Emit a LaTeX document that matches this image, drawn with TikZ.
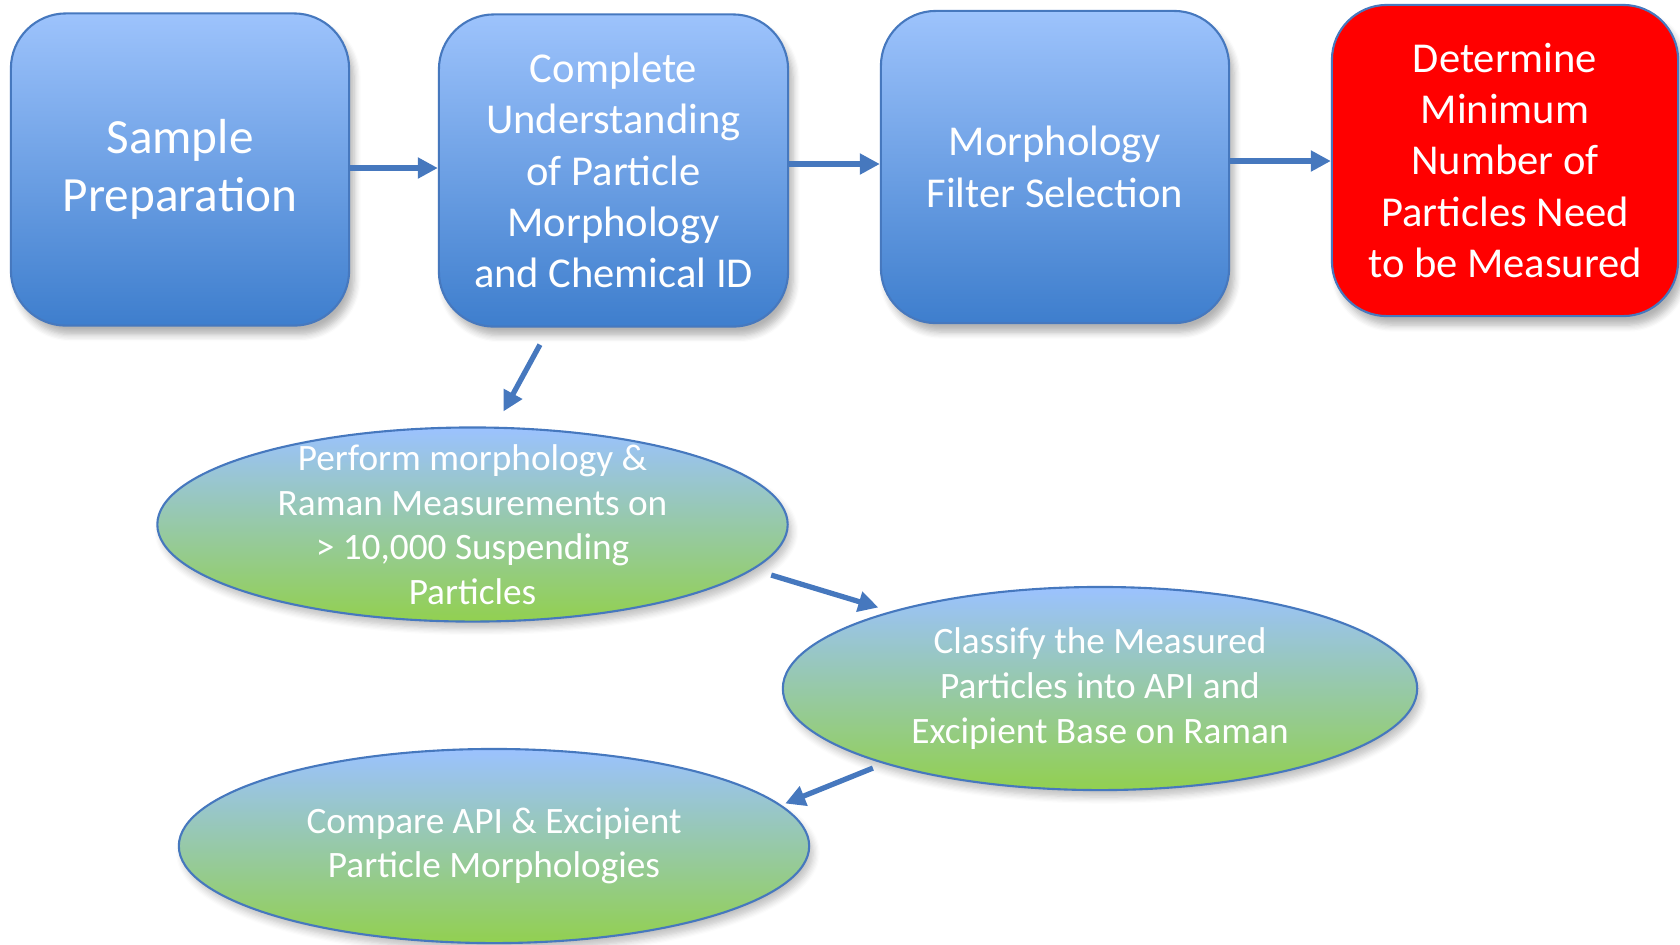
\documentclass[tikz,border=0pt]{standalone}
\usepackage{fontspec}
\setmainfont{Carlito}
\usepackage{xcolor}
\usetikzlibrary{shapes.geometric,shadows.blur,arrows.meta}

\definecolor{boxtop}{RGB}{157,195,252}
\definecolor{boxbot}{RGB}{62,126,205}
\definecolor{edgeblue}{RGB}{70,120,190}
\definecolor{ovtop}{RGB}{155,194,255}
\definecolor{ovbot}{RGB}{146,208,80}

\begin{document}
\begin{tikzpicture}[x=0.01cm,y=-0.01cm,
		stepbox/.style={draw=edgeblue,line width=0.6pt,rounded corners=0.55cm,top color=boxtop,bottom color=boxbot,
			text=white,align=center,minimum width=3.44cm,minimum height=3.12cm,inner sep=0pt,
			blur shadow={shadow xshift=0.5mm,shadow yshift=-0.9mm,shadow blur steps=6,shadow opacity=30}},
		redbox/.style={stepbox,top color=red,bottom color=red},
		oval/.style={ellipse,draw=edgeblue,line width=0.6pt,top color=ovtop,bottom color=ovbot,
			text=white,align=center,inner xsep=0pt,inner ysep=-6pt,font=\fontsize{10.6}{12.7}\selectfont,
			blur shadow={shadow xshift=0.4mm,shadow yshift=-0.7mm,shadow blur steps=6,shadow opacity=25}},
		flow/.style={draw=edgeblue,line width=1.5pt,-{Triangle[length=2mm,width=2mm]}}]
	\useasboundingbox (0,0) rectangle (1680,944);
	% top row
	\node[stepbox,minimum width=3.38cm,font=\fontsize{14}{16.3}\selectfont] (prep) at (180,169.5) {Sample\\Preparation};
	\node[stepbox,minimum width=3.49cm,font=\fontsize{12.1}{14.6}\selectfont] (und) at (613.5,170.5) {Complete\\Understanding\\of Particle\\Morphology\\and Chemical ID};
	\node[stepbox,minimum width=3.48cm,font=\fontsize{12.1}{14.9}\selectfont] (filt) at (1055,167) {Morphology\\Filter Selection};
	\node[redbox,minimum width=3.46cm,minimum height=3.11cm,font=\fontsize{12.1}{14.6}\selectfont] (minnum) at (1505,160.5) {Determine\\Minimum\\Number of\\Particles Need\\to be Measured};
	% ovals
	\node[oval,minimum width=6.3cm,minimum height=1.94cm] (meas) at (472.5,524.5) {Perform morphology \&\\Raman Measurements on\\> 10,000 Suspending\\Particles};
	\node[oval,minimum width=6.34cm,minimum height=2.03cm] (class) at (1100,688.5) {Classify the Measured\\Particles into API and\\Excipient Base on Raman};
	\node[oval,minimum width=6.3cm,minimum height=1.94cm] (comp) at (494,846) {Compare API \& Excipient\\Particle Morphologies};
	% arrows
	\draw[flow] ([yshift=0.015cm]prep.east) -- ([yshift=0.015cm]prep.east -| und.west);
	\draw[flow] ([yshift=0.065cm]und.east) -- ([yshift=0.065cm]und.east -| filt.west);
	\draw[flow] ([yshift=0.06cm]filt.east) -- ([yshift=0.06cm]filt.east -| minnum.west);
	\draw[flow] ([xshift=-0.735cm,yshift=-0.17cm]und.south) -- ([xshift=0.31cm,yshift=0.15cm]meas.north);
	\draw[flow] ([shift={(2.985cm,-0.505cm)}]meas.center) -- ([shift={(-2.215cm,0.81cm)}]class.center);
	\draw[flow] ([shift={(-2.27cm,-0.795cm)}]class.center) -- ([shift={(2.91cm,0.425cm)}]comp.center);
\end{tikzpicture}
\end{document}
